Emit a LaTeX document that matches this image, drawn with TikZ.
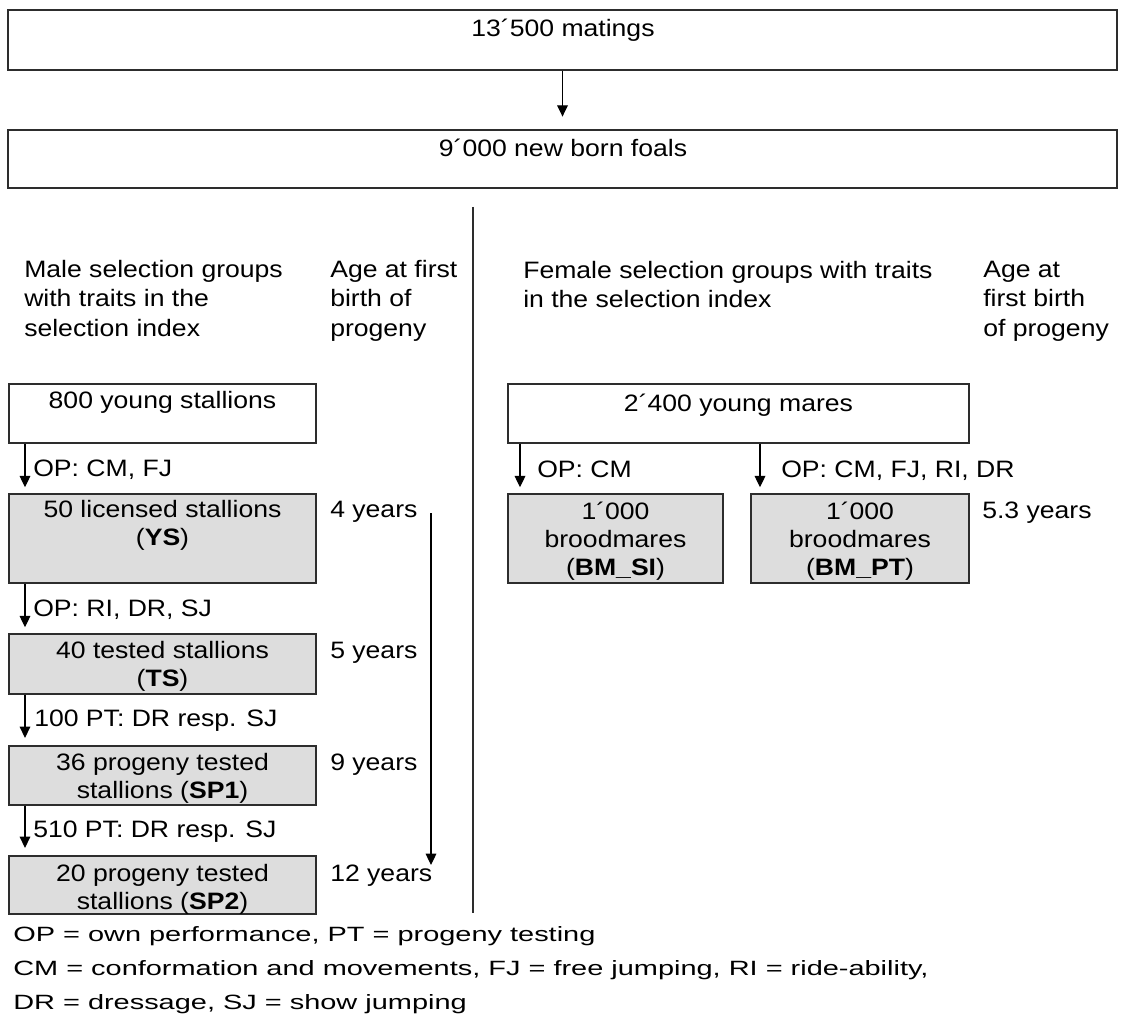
\documentclass[tikz,border=0pt]{standalone}
\usepackage{fontspec}
\setmainfont[FakeStretch=1.12]{Liberation Sans}
\newfontfamily\footfont[FakeStretch=1.4]{Liberation Sans}
\usetikzlibrary{arrows.meta,fit}
\definecolor{boxgray}{RGB}{221,221,221}
\definecolor{edge}{RGB}{45,45,45}
\begin{document}
\begin{tikzpicture}[x=0.75pt,y=-0.75pt,
  box/.style={draw=edge,line width=1.1pt,inner sep=0pt},
  gbox/.style={box,fill=boxgray},
  btxt/.style={anchor=north,inner sep=0pt,align=center,font=\fontsize{17.8}{20.5}\selectfont},
  htxt/.style={anchor=north west,inner sep=0pt,align=left,font=\fontsize{17.8}{22}\selectfont},
  ltxt/.style={anchor=base west,inner sep=0pt,font=\fontsize{17.8}{20.5}\selectfont},
  arr/.style={draw=black,line width=0.9pt,-{Triangle[length=8.5pt,width=8pt]}},
]
\fill[white] (0,0) rectangle (1121,1020);
\useasboundingbox (0,0) rectangle (1121,1020);

% top boxes
\node[box,fit={(8,10)(1117,70)}] (mat) {};
\node[btxt] (matT) at (563,18.5) {13´500 matings};
\node[box,fit={(8,130)(1117,188)}] (foal) {};
\node[btxt] (foalT) at (563,138.5) {9´000 new born foals};
\draw[arr,shorten >=9.5pt] (mat.south) -- (foal.north);

% divider
\coordinate (dv1) at (473,207);
\coordinate (dv2) at (473,913);
\draw[line width=0.9pt,draw=edge] (dv1) -- (dv2);

% headers
\node[htxt] (mhead) at (24,260) {Male selection groups\\with traits in the\\selection index};
\node[htxt] (mage) at (330,260) {Age at first\\birth of\\progeny};
\node[htxt] (fhead) at (523,261) {Female selection groups with traits\\in the selection index};
\node[htxt] (fage) at (983,261) {Age at\\first birth\\of progeny};

% male boxes
\node[box,fit={(9,384)(316,443)}] (ys0) {};
\node[btxt] (ys0T) at (162.5,391.5) {800 young stallions};
\node[gbox,fit={(9,494)(316,583)}] (ys) {};
\node[btxt,font=\fontsize{17.8}{21}\selectfont] (ysT) at (162.5,500.5) {50 licensed stallions\\(\textbf{YS})};
\node[gbox,fit={(9,634)(316,694)}] (ts) {};
\node[btxt] (tsT) at (162.5,641.5) {40 tested stallions\\(\textbf{TS})};
\node[gbox,fit={(9,746)(316,805)}] (sp1) {};
\node[btxt] (sp1T) at (162.5,753.5) {36 progeny tested\\stallions (\textbf{SP1})};
\node[gbox,fit={(9,856)(316,914)}] (sp2) {};
\node[btxt] (sp2T) at (162.5,864.5) {20 progeny tested\\stallions (\textbf{SP2})};

% male arrows
\coordinate (mx) at (25,0);
\draw[arr,shorten >=4.5pt] (ys0.south -| mx) -- (ys.north -| mx);
\draw[arr,shorten >=4.5pt] (ys.south -| mx) -- (ts.north -| mx);
\draw[arr,shorten >=5.5pt] (ts.south -| mx) -- (sp1.north -| mx);
\draw[arr,shorten >=5.5pt] (sp1.south -| mx) -- (sp2.north -| mx);
\node[ltxt] (l1) at (33,476.5) {OP: CM, FJ};
\node[ltxt] (l2) at (33,616.5) {OP: RI, DR, SJ};
\node[ltxt] (l3) at (34,726.5) {100 PT: DR resp. SJ};
\node[ltxt] (l4) at (33,837.5) {510 PT: DR resp. SJ};

% ages male
\node[ltxt] (a1) at (330,517.5) {4 years};
\node[ltxt] (a2) at (330,658.5) {5 years};
\node[ltxt] (a3) at (330,770.5) {9 years};
\node[ltxt] (a4) at (330,881.5) {12 years};
\coordinate (la1) at (431,513);
\coordinate (la2) at (431,865);
\draw[arr] (la1) -- (la2);

% female boxes
\node[box,fit={(508,384)(969,443)}] (mare) {};
\node[btxt] (mareT) at (738.5,393.5) {2´400 young mares};
\node[gbox,fit={(508,494)(723,583)}] (bmsi) {};
\node[btxt,font=\fontsize{17.8}{21}\selectfont] (bmsiT) at (615.5,501.5) {1´000\\broodmares\\(\textbf{BM\_SI})};
\node[gbox,fit={(751,494)(969,583)}] (bmpt) {};
\node[btxt,font=\fontsize{17.8}{21}\selectfont] (bmptT) at (860,501.5) {1´000\\broodmares\\(\textbf{BM\_PT})};
\coordinate (fx1) at (520,0);
\coordinate (fx2) at (760,0);
\draw[arr,shorten >=4.5pt] (mare.south -| fx1) -- (bmsi.north -| fx1);
\draw[arr,shorten >=4.5pt] (mare.south -| fx2) -- (bmpt.north -| fx2);
\node[ltxt] (fl1) at (537,477.5) {OP: CM};
\node[ltxt] (fl2) at (781,477.5) {OP: CM, FJ, RI, DR};
\node[ltxt] (fa1) at (982,518.5) {5.3 years};

% legend
\node[anchor=north west,inner sep=0pt,align=left,font=\footfont\fontsize{15.5}{25.5}\selectfont] (legend) at (13,926.6)
  {OP = own performance, PT = progeny testing\\
   CM = conformation and movements, FJ = free jumping, RI = ride-ability,\\
   DR = dressage, SJ = show jumping};
\end{tikzpicture}
\end{document}
